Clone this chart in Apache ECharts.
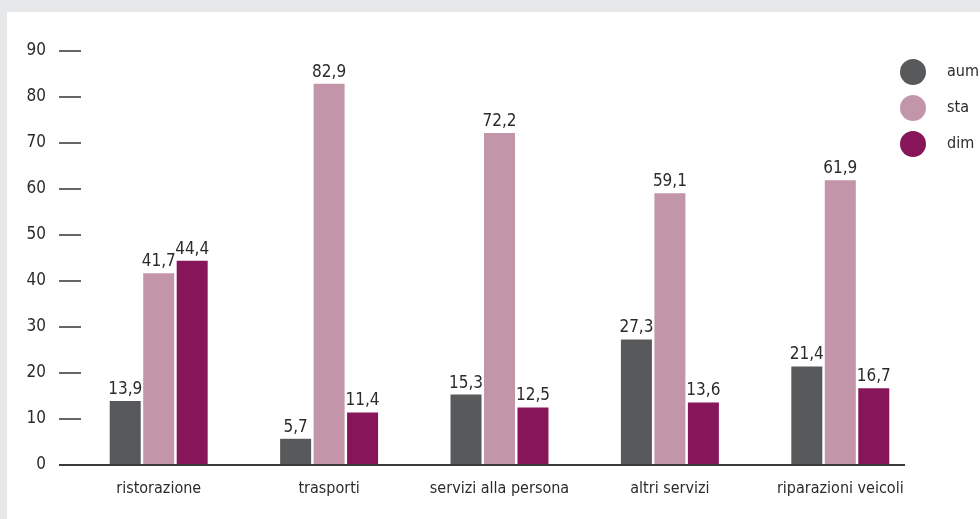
<!DOCTYPE html>
<html>
<head>
<meta charset="utf-8">
<script src="https://cdn.jsdelivr.net/npm/echarts@6/dist/echarts.min.js"></script>
<style>
  html, body { margin: 0; padding: 0; background: #e6e7e9; }
  #chart { position: absolute; left: 7px; top: 12px; width: 973px; height: 507px; background: #ffffff; }
</style>
</head>
<body>
<div id="chart"></div>
<script>
// Sectors and shares (%) for each group
const categories = ['ristorazione', 'trasporti', 'servizi alla persona', 'altri servizi', 'riparazioni veicoli'];
const aum = [13.9, 5.7, 15.3, 27.3, 21.4];
const sta = [41.7, 82.9, 72.2, 59.1, 61.9];
const dim = [44.4, 11.4, 12.5, 13.6, 16.7];
const seriesNames = ['aum', 'sta', 'dim'];
const colors = ['#58595b', '#c395a9', '#87155a'];

const FONT = '"Liberation Sans Narrow", "DejaVu Sans Condensed", sans-serif';
const TEXT = '#2b2b2b';

const chart = echarts.init(document.getElementById('chart'), null, { renderer: 'canvas' });

const fmt = v => String(v.value).replace('.', ',');

function barSeries(name, data, color) {
  return {
    name: name,
    type: 'bar',
    data: data,
    barWidth: 31,
    barGap: '8%',
    itemStyle: { color: color },
    label: {
      show: true,
      position: 'top',
      distance: 3,
      formatter: fmt,
      color: TEXT,
      fontFamily: FONT,
      fontSize: 17
    }
  };
}

chart.setOption({
  animation: false,
  color: colors,
  grid: { left: 66.5, right: 54.5, top: 39, bottom: 54, containLabel: false },
  legend: {
    orient: 'vertical',
    left: 893,
    top: 47,
    padding: 0,
    icon: 'circle',
    itemWidth: 26,
    itemHeight: 26,
    itemGap: 10,
    data: seriesNames,
    textStyle: { color: TEXT, fontFamily: FONT, fontSize: 16, padding: [0, 0, 0, 16] }
  },
  xAxis: {
    type: 'category',
    data: categories,
    axisLine: { show: false },
    axisTick: { show: false },
    axisLabel: { interval: 0, color: TEXT, fontFamily: FONT, fontSize: 16, margin: 16 }
  },
  yAxis: {
    type: 'value',
    min: 0,
    max: 90,
    interval: 10,
    offset: -7.5,
    axisLine: { show: false },
    axisTick: { show: true, length: 22, lineStyle: { color: '#333333', width: 1.5 } },
    axisLabel: { color: TEXT, fontFamily: FONT, fontSize: 17, margin: 35 },
    splitLine: { show: false }
  },
  series: [
    barSeries(seriesNames[0], aum, colors[0]),
    barSeries(seriesNames[1], sta, colors[1]),
    barSeries(seriesNames[2], dim, colors[2])
  ]
});

// Baseline at zero, running from the tick marks to the right end of the plot
const y0 = chart.convertToPixel({ yAxisIndex: 0 }, 0);
chart.setOption({
  graphic: [{
    type: 'line',
    shape: { x1: 52, y1: y0, x2: 898, y2: y0 },
    style: { stroke: '#3a3a3a', lineWidth: 2 },
    z: 10
  }]
});
</script>
</body>
</html>
